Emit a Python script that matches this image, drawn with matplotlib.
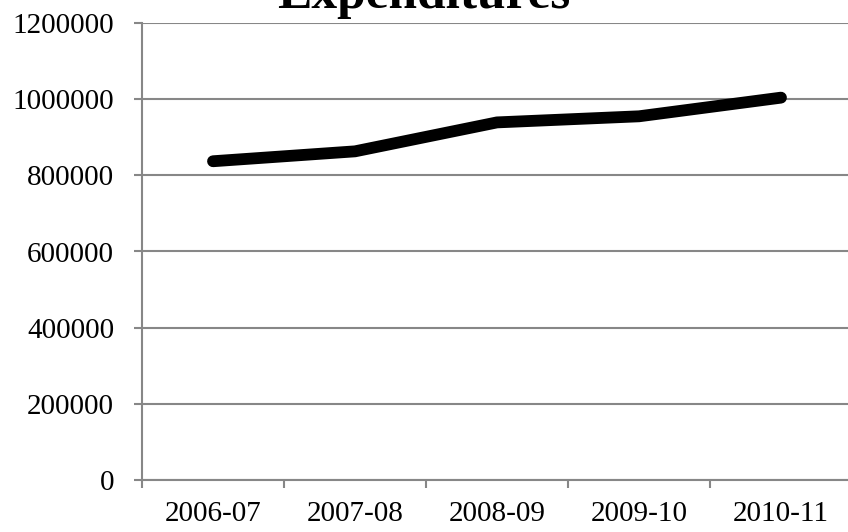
import matplotlib.pyplot as plt
from matplotlib.ticker import StrMethodFormatter
import numpy as np

# Yearly expenditures
years = ['2006-07', '2007-08', '2008-09', '2009-10', '2010-11']
expenditures = [837000, 863000, 939000, 955000, 1004000]

plt.rcParams['font.family'] = 'Liberation Serif'
grey = '#878787'

fig = plt.figure(figsize=(8.48, 5.32), dpi=100)
ax = fig.add_axes([142 / 848, 52 / 532, 710 / 848, 457 / 532])

x = np.arange(len(years))
ax.plot(x, expenditures, '-', color='black', lw=8.5, solid_capstyle='round', zorder=3)

ax.set_xlim(-0.5, len(years) - 0.5)
ax.set_ylim(0, 1200000)
ax.set_yticks(np.arange(0, 1200001, 200000))
ax.yaxis.set_major_formatter(StrMethodFormatter('{x:.0f}'))
ax.yaxis.grid(True, color=grey, lw=1.5)
ax.set_axisbelow(True)

# category labels centred, tick marks on the boundaries
ax.set_xticks(x)
ax.set_xticklabels(years)
ax.set_xticks(np.arange(-0.5, len(years)), minor=True)
ax.tick_params(axis='x', which='major', length=0, pad=15, labelsize=21)
ax.tick_params(axis='x', which='minor', length=6, width=1.5, color=grey, direction='out')
ax.tick_params(axis='y', length=6, width=1.5, color=grey, pad=14, labelsize=21)

for side in ['top', 'right']:
    ax.spines[side].set_visible(False)
for side in ['left', 'bottom']:
    ax.spines[side].set_color(grey)
    ax.spines[side].set_linewidth(1.5)

fig.text(0.5, 1 - 8 / 532, 'Expenditures', ha='center', va='baseline', fontsize=37, weight='bold')

fig.savefig('out.png', dpi=100)
